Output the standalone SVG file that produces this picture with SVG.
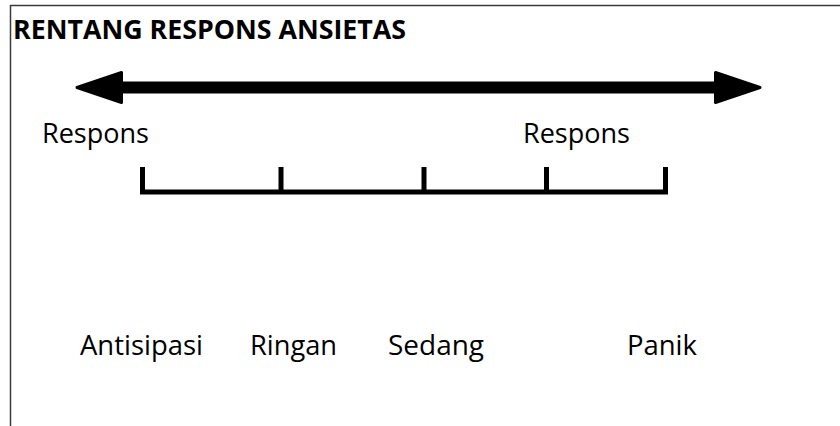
<svg xmlns="http://www.w3.org/2000/svg" width="840" height="426" viewBox="0 0 840 426">
  <style>
    .lbl { font-family: "Open Sans", "Noto Sans", "Liberation Sans", sans-serif; font-size: 27.5px; fill: #000; }
    .title { font-family: "Open Sans", "Noto Sans", "Liberation Sans", sans-serif; font-size: 27px; font-weight: bold; fill: #000; }
    .frame { stroke: #3a3a3a; stroke-width: 1.5; fill: none; }
    .head { fill: #000; stroke: #000; stroke-width: 3; stroke-linejoin: round; }
    .scale { fill: none; stroke: #000; stroke-width: 5; stroke-linecap: butt; stroke-linejoin: miter; }
  </style>
  <rect width="840" height="426" fill="#fff"/>
  <g id="frame">
    <path class="frame" d="M10.5 426 V5.5 H840"/>
  </g>
  <g id="title">
    <text class="title" x="13" y="39" textLength="393" lengthAdjust="spacingAndGlyphs">RENTANG RESPONS ANSIETAS</text>
  </g>
  <g id="connectors">
    <g id="range-arrow">
      <rect x="120" y="81.5" width="597" height="12" fill="#000"/>
      <polygon class="head" points="77,87.5 121.5,72.5 121.5,102.5"/>
      <polygon class="head" points="715.5,72.5 760,87.5 715.5,102.5"/>
    </g>
    <g id="scale">
      <path class="scale" d="M142.5 167 V192 H665.5 V167"/>
      <path class="scale" d="M281 167 V192 M424 167 V192 M546.5 167 V192"/>
    </g>
  </g>
  <g id="respons-left">
    <text class="lbl" x="42" y="143" textLength="107" lengthAdjust="spacingAndGlyphs">Respons</text>
  </g>
  <g id="respons-right">
    <text class="lbl" x="523" y="143" textLength="107" lengthAdjust="spacingAndGlyphs">Respons</text>
  </g>
  <g id="antisipasi">
    <text class="lbl" x="80" y="355" textLength="123" lengthAdjust="spacingAndGlyphs">Antisipasi</text>
  </g>
  <g id="ringan">
    <text class="lbl" x="250" y="355" textLength="87" lengthAdjust="spacingAndGlyphs">Ringan</text>
  </g>
  <g id="sedang">
    <text class="lbl" x="388" y="355" textLength="96" lengthAdjust="spacingAndGlyphs">Sedang</text>
  </g>
  <g id="panik">
    <text class="lbl" x="627" y="355" textLength="70" lengthAdjust="spacingAndGlyphs">Panik</text>
  </g>
</svg>
